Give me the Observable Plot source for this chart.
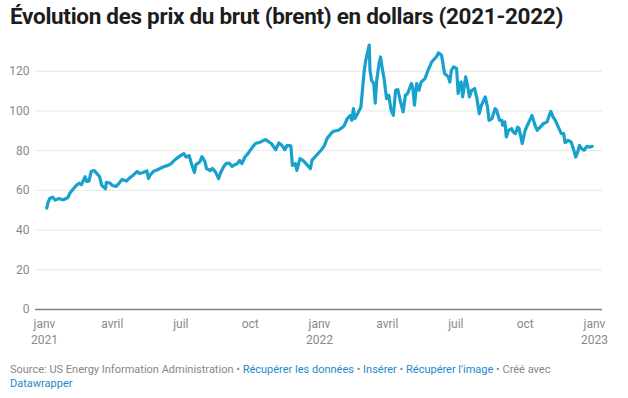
<!DOCTYPE html>
<html><head><meta charset="utf-8">
<script src="https://cdn.jsdelivr.net/npm/d3@7"></script>
<script src="https://cdn.jsdelivr.net/npm/@observablehq/plot@0.6"></script>
<style>
body{margin:0;background:#fff;font-family:Roboto,sans-serif;}
#wrap{position:relative;width:628px;height:398px;overflow:hidden;background:#fff}
#title{position:absolute;left:10px;top:3px;font-size:22.5px;font-weight:700;color:#1d1d1d;white-space:nowrap;letter-spacing:-0.3px}
#chart{position:absolute;left:0;top:40px}
#foot{position:absolute;left:10px;top:363px;font-size:11px;color:#888;line-height:14px;width:570px}
#foot a{color:#1d8ac7;text-decoration:none}
</style></head>
<body><div id="wrap">
<div id="title">Évolution des prix du brut (brent) en dollars (2021-2022)</div>
<div id="chart"></div>
<div id="foot">Source: US Energy Information Administration • <a>Récupérer les données</a> • <a>Insérer</a> • <a>Récupérer l'image</a> • Créé avec<br><a>Datawrapper</a></div>
</div>
<script>
const dates = [
"2021-01-04","2021-01-06","2021-01-08","2021-01-12","2021-01-15","2021-01-20","2021-01-25","2021-01-28",
"2021-02-01","2021-02-04","2021-02-09","2021-02-12","2021-02-16","2021-02-19","2021-02-24","2021-02-26",
"2021-03-01","2021-03-04","2021-03-08","2021-03-11","2021-03-15","2021-03-18","2021-03-23","2021-03-24","2021-03-29",
"2021-04-01","2021-04-06","2021-04-09","2021-04-14","2021-04-20","2021-04-23","2021-04-29",
"2021-05-04","2021-05-07","2021-05-12","2021-05-17","2021-05-19","2021-05-21","2021-05-26","2021-05-31",
"2021-06-04","2021-06-09","2021-06-14","2021-06-18","2021-06-22","2021-06-25","2021-06-30",
"2021-07-05","2021-07-08","2021-07-12","2021-07-15","2021-07-19","2021-07-21","2021-07-26","2021-07-29",
"2021-08-02","2021-08-04","2021-08-09","2021-08-12","2021-08-16","2021-08-20","2021-08-23","2021-08-27","2021-08-30",
"2021-09-03","2021-09-07","2021-09-10","2021-09-14","2021-09-17","2021-09-20","2021-09-24","2021-09-28",
"2021-10-04","2021-10-08","2021-10-15","2021-10-21","2021-10-26","2021-10-29",
"2021-11-04","2021-11-08","2021-11-12","2021-11-16","2021-11-19","2021-11-24","2021-11-26","2021-11-30",
"2021-12-02","2021-12-06","2021-12-10","2021-12-14","2021-12-20","2021-12-22","2021-12-28",
"2022-01-03","2022-01-07","2022-01-11","2022-01-18","2022-01-21","2022-01-26","2022-01-31",
"2022-02-03","2022-02-07","2022-02-11","2022-02-13","2022-02-15","2022-02-17","2022-02-21","2022-02-25",
"2022-03-01","2022-03-03","2022-03-08","2022-03-09","2022-03-11","2022-03-14","2022-03-16","2022-03-18","2022-03-21","2022-03-23","2022-03-25","2022-03-28","2022-03-31",
"2022-04-03","2022-04-06","2022-04-09","2022-04-12","2022-04-15","2022-04-18","2022-04-22","2022-04-25","2022-04-28",
"2022-05-03","2022-05-05","2022-05-07","2022-05-10","2022-05-13","2022-05-16","2022-05-21","2022-05-25","2022-05-30",
"2022-06-01","2022-06-05","2022-06-08","2022-06-12","2022-06-16","2022-06-21","2022-06-23","2022-06-25","2022-06-28",
"2022-07-02","2022-07-04","2022-07-06","2022-07-08","2022-07-10","2022-07-14","2022-07-16","2022-07-19","2022-07-22","2022-07-26","2022-07-29",
"2022-08-01","2022-08-04","2022-08-09","2022-08-12","2022-08-14","2022-08-18","2022-08-22","2022-08-24","2022-08-28","2022-08-31",
"2022-09-01","2022-09-04","2022-09-06","2022-09-09","2022-09-13","2022-09-15","2022-09-18","2022-09-21","2022-09-23","2022-09-27",
"2022-10-01","2022-10-04","2022-10-07","2022-10-10","2022-10-14","2022-10-17","2022-10-21","2022-10-25","2022-10-30",
"2022-11-02","2022-11-04","2022-11-07","2022-11-10","2022-11-14","2022-11-18","2022-11-21","2022-11-23","2022-11-27",
"2022-12-01","2022-12-04","2022-12-07","2022-12-09","2022-12-12","2022-12-15","2022-12-18","2022-12-22","2022-12-26","2022-12-29"
];
const prices = [
51.1,54.3,55.9,56.6,55.1,55.9,55.3,55.6,
56.4,58.8,61.1,62.4,63.6,62.9,66.9,64.5,
64.7,69.6,70.0,68.7,67.0,62.5,60.8,64.0,63.7,
62.5,62.0,63.2,65.5,64.7,66.0,67.8,
69.5,68.5,69.0,69.8,66.0,67.6,69.7,70.4,
71.2,72.0,72.6,73.5,75.0,76.0,77.4,
78.5,76.8,77.5,73.5,69.0,73.0,74.3,77.0,
74.5,71.0,70.0,71.0,69.2,65.9,69.2,72.0,73.5,
73.8,72.1,72.8,73.5,75.1,73.5,76.8,78.5,
81.8,83.6,84.4,85.6,84.4,83.6,
80.5,83.9,82.7,80.5,82.7,82.5,72.6,73.5,
70.1,76.0,75.1,73.5,71.0,75.1,77.7,
80.2,82.2,86.1,89.4,89.9,90.3,91.6,
92.8,96.2,97.8,95.3,101.2,96.2,99.0,102.0,
118.9,124.7,133.2,120.5,115.5,113.8,104.0,115.5,123.9,127.2,122.2,115.5,106.2,
107.9,100.4,97.8,110.4,110.8,105.4,99.5,107.9,108.8,
113.8,111.3,102.9,113.8,110.4,114.6,116.3,120.5,124.7,
125.6,127.2,129.3,128.1,118.9,117.2,114.6,120.5,122.2,
121.4,108.8,113.8,114.6,107.1,117.2,113.8,107.1,110.4,111.3,106.2,
98.7,102.9,107.1,102.0,95.3,96.2,101.2,100.4,95.3,95.3,
92.8,94.5,86.9,90.3,91.1,89.4,88.6,91.9,91.1,83.6,
90.3,92.8,95.3,97.8,92.8,90.3,91.9,93.6,94.5,
97.8,99.8,97.0,95.3,91.9,88.6,88.6,84.0,85.2,
84.4,81.0,76.8,78.5,82.7,81.0,80.2,82.2,81.8,82.2
];
const yTicks = [0, 20, 40, 60, 80, 100, 120];
const xTickDates = ["2021-01-01","2021-04-01","2021-07-01","2021-10-01","2022-01-01","2022-04-01","2022-07-01","2022-10-01","2023-01-01"];
const monthLabels = ["janv", "avril", "juil", "oct"];

const data = dates.map((d, i) => ({date: new Date(d), price: prices[i]}));
const xTicks = xTickDates.map(d => new Date(d));

const chart = Plot.plot({
  width: 628,
  height: 310,
  marginLeft: 44,
  marginRight: 34,
  marginTop: 1,
  marginBottom: 41,
  style: {fontFamily: "Roboto, sans-serif", fontSize: "12px", color: "#8a8a8a", background: "#fff", overflow: "visible"},
  x: {type: "utc", domain: [new Date("2021-01-01"), new Date("2023-01-01")]},
  y: {domain: [0, 135]},
  marks: [
    Plot.ruleY(yTicks.filter(d => d > 0), {stroke: "#e6e6e6", strokeWidth: 1, insetLeft: -9, insetRight: -8}),
    Plot.axisY({ticks: yTicks, tickSize: 0, tickPadding: 15, label: null, fill: "#8a8a8a"}),
    Plot.axisX({ticks: xTicks, tickSize: 0, tickPadding: 7, label: null, fill: "#8a8a8a", lineHeight: 1.35,
      tickFormat: d => {
        const m = monthLabels[Math.floor(d.getUTCMonth() / 3)];
        return d.getUTCMonth() === 0 ? m + "\n" + d.getUTCFullYear() : m;
      }}),
    Plot.ruleY([0], {stroke: "#808080", strokeWidth: 1.5, insetLeft: -9, insetRight: -8}),
    Plot.line(data, {x: "date", y: "price", stroke: "#18a1cd", strokeWidth: 3.2, strokeLinejoin: "round", strokeLinecap: "round"})
  ]
});
document.getElementById("chart").appendChild(chart);
</script>
</body></html>
